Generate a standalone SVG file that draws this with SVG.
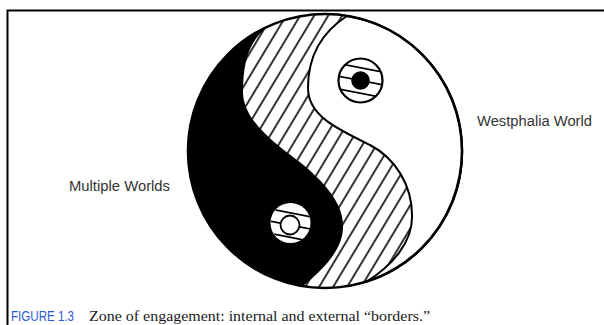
<svg xmlns="http://www.w3.org/2000/svg" width="604" height="325" viewBox="0 0 604 325">
<defs>
<pattern id="hatch" patternUnits="userSpaceOnUse" width="12" height="40" patternTransform="rotate(31 325 151)">
<line x1="6" y1="-5" x2="6" y2="45" stroke="#000" stroke-width="1.6"/>
</pattern>
<clipPath id="eyeA"><circle cx="360.5" cy="80.5" r="22"/></clipPath>
<clipPath id="eyeB"><circle cx="290.5" cy="223" r="20"/></clipPath>
</defs>
<style>
.lbl{font-family:"Liberation Sans","DejaVu Sans",sans-serif;font-size:14px;fill:#333}
.stripe{stroke:#000;stroke-width:1.8;fill:none}
</style>
<rect width="604" height="325" fill="#fff"/>
<path d="M7.5,325 V10.5 H604" fill="none" stroke="#000" stroke-width="2"/>

<g id="zone">
<circle cx="325" cy="151" r="137" fill="#fff"/>
<circle cx="325" cy="151" r="137" fill="url(#hatch)"/>
</g>

<g id="multiple-worlds-shape">
<path d="M275,23 A137,137 0 0 0 303,286 C325,268 344,248 343,225 C343,200 318,176 297,160 C270,140 243,118 243,92 C243,60 250,35 275,23 Z" fill="#000"/>
</g>

<g id="westphalia-shape">
<path d="M347,16 A137,137 0 0 1 366,282 C392,266 413,242 412,215 C412,185 395,158 370,145 C335,128 308,115 308,88 C308,55 322,32 347,16 Z" fill="#fff" stroke="#000" stroke-width="2"/>
</g>

<g id="eye-westphalia">
<circle cx="360.5" cy="80.5" r="22" fill="#fff"/>
<g clip-path="url(#eyeA)" transform="rotate(11 360.5 80.5)">
<line class="stripe" x1="330" y1="68" x2="392" y2="68"/>
<line class="stripe" x1="330" y1="80.5" x2="392" y2="80.5"/>
<line class="stripe" x1="330" y1="93" x2="392" y2="93"/>
</g>
<circle cx="360.5" cy="80.5" r="22" fill="none" stroke="#000" stroke-width="2.2"/>
<circle cx="360.5" cy="80.5" r="9.3" fill="#000"/>
</g>

<g id="eye-multiple">
<circle cx="290.5" cy="223" r="20" fill="#fff"/>
<g clip-path="url(#eyeB)" transform="rotate(11 290 225)">
<line class="stripe" x1="260" y1="213" x2="322" y2="213"/>
<line class="stripe" x1="260" y1="225" x2="322" y2="225"/>
<line class="stripe" x1="260" y1="237" x2="322" y2="237"/>
</g>
<circle cx="290" cy="225" r="9.5" fill="#fff" stroke="#000" stroke-width="1.8"/>
</g>

<circle cx="325" cy="151" r="137" fill="none" stroke="#000" stroke-width="2.6"/>

<g id="label-westphalia">
<text class="lbl" x="477" y="126" textLength="115" lengthAdjust="spacingAndGlyphs">Westphalia World</text>
</g>
<g id="label-multiple">
<text class="lbl" x="69" y="191" textLength="101" lengthAdjust="spacingAndGlyphs">Multiple Worlds</text>
</g>

<g id="caption">
<text x="11" y="321" font-family="'Liberation Sans','DejaVu Sans',sans-serif" font-size="14" fill="#2a5bd7" textLength="63" lengthAdjust="spacingAndGlyphs">FIGURE 1.3</text>
<text x="89" y="321" font-family="'Liberation Serif','DejaVu Serif',serif" font-size="15" fill="#1a1a1a" textLength="341" lengthAdjust="spacingAndGlyphs">Zone of engagement: internal and external “borders.”</text>
</g>
</svg>
